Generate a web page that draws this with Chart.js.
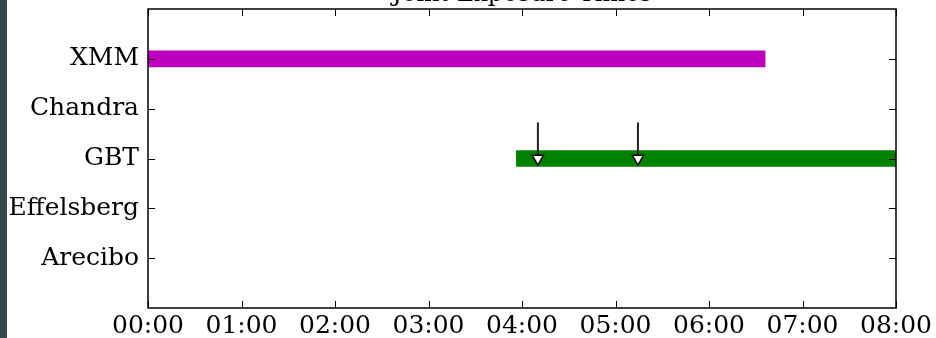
<!DOCTYPE html>
<html>
<head>
<meta charset="utf-8">
<script src="https://cdn.jsdelivr.net/npm/chart.js@4/dist/chart.umd.min.js"></script>
<style>
  html, body { margin: 0; padding: 0; background: #fff; }
  body { width: 936px; height: 338px; overflow: hidden; position: relative; }
  #strip { position: absolute; left: 0; top: 0; width: 7px; height: 338px; background: #36474f; }
  #wrap { position: absolute; left: 0; top: 0; width: 936px; height: 338px; }
</style>
</head>
<body>
<div id="wrap"><canvas id="obsChart"></canvas></div>
<div id="strip"></div>
<script>
// telescopes, top to bottom
const telescopes = ['XMM', 'Chandra', 'GBT', 'Effelsberg', 'Arecibo'];
// hours shown on the time axis
const hourTicks = [0, 1, 2, 3, 4, 5, 6, 7, 8];
// observing windows in hours
const xmmWindow = [0, 6.6];
const gbtWindow = [3.94, 8];
// arrow markers on the GBT row (hours)
const arrowTimes = [4.17, 5.24];
const arrowTop = 1.28;
const arrowTip = 2.0;
const titleText = 'Joint Exposure Times';

const serif = '"DejaVu Serif", serif';

function hh(v) {
  return (v < 10 ? '0' : '') + v + ':00';
}

// matplotlib style frame with inward ticks, and the clipped title
const framePlugin = {
  id: 'frame',
  afterDraw(chart) {
    const ctx = chart.ctx;
    const a = chart.chartArea;
    const xs = chart.scales.x, ys = chart.scales.y;
    ctx.save();
    ctx.strokeStyle = '#000';
    ctx.lineWidth = 1.5;
    ctx.strokeRect(a.left, a.top, a.right - a.left, a.bottom - a.top);
    ctx.lineWidth = 1;
    ctx.beginPath();
    hourTicks.forEach(h => {
      const px = Math.round(xs.getPixelForValue(h)) + 0.5;
      ctx.moveTo(px, a.bottom); ctx.lineTo(px, a.bottom - 7);
      ctx.moveTo(px, a.top); ctx.lineTo(px, a.top + 7);
    });
    telescopes.forEach((t, i) => {
      const py = Math.round(ys.getPixelForValue(i)) + 0.5;
      ctx.moveTo(a.left, py); ctx.lineTo(a.left + 7, py);
      ctx.moveTo(a.right, py); ctx.lineTo(a.right - 7, py);
    });
    ctx.stroke();
    // title sits mostly above the visible area
    ctx.fillStyle = '#000';
    ctx.font = '24px ' + serif;
    ctx.textAlign = 'center';
    ctx.textBaseline = 'alphabetic';
    ctx.fillText(titleText, (a.left + a.right) / 2, 1);
    ctx.restore();
  }
};

const datasets = [
  {
    type: 'bar',
    indexAxis: 'y',
    grouped: false,
    data: [{ y: 0, x: xmmWindow }],
    backgroundColor: '#bf00bf',
    barThickness: 16,
    order: 3
  },
  {
    type: 'bar',
    indexAxis: 'y',
    grouped: false,
    data: [{ y: 2, x: gbtWindow }],
    backgroundColor: '#008000',
    barThickness: 16,
    order: 3
  }
];

arrowTimes.forEach(t => {
  datasets.push({
    type: 'line',
    data: [{ x: t, y: arrowTop }, { x: t, y: arrowTip }],
    borderColor: '#222',
    borderWidth: 2,
    pointRadius: [0, 6.5],
    pointStyle: 'triangle',
    rotation: 180,
    pointBackgroundColor: '#fff',
    pointBorderColor: '#000',
    pointBorderWidth: 1.5,
    order: 1
  });
});

new Chart(document.getElementById('obsChart'), {
  data: { datasets: datasets },
  options: {
    responsive: true,
    maintainAspectRatio: false,
    animation: false,
    layout: { padding: { top: 9, right: 40, left: 0, bottom: 0 } },
    plugins: {
      legend: { display: false },
      tooltip: { enabled: false }
    },
    scales: {
      x: {
        type: 'linear',
        min: 0,
        max: 8,
        offset: false,
        grid: { display: false, drawTicks: false },
        border: { display: false },
        afterBuildTicks: s => { s.ticks = hourTicks.map(v => ({ value: v })); },
        ticks: {
          color: '#000',
          font: { family: serif, size: 25 },
          padding: 3,
          maxRotation: 0,
          callback: v => hh(v)
        },
        afterFit: s => { s.height = 30; }
      },
      y: {
        type: 'linear',
        reverse: true,
        min: -1,
        max: 5,
        offset: false,
        grid: { display: false, drawTicks: false },
        border: { display: false },
        afterBuildTicks: s => { s.ticks = telescopes.map((t, i) => ({ value: i })); },
        ticks: {
          color: '#000',
          font: { family: serif, size: 25 },
          padding: 9,
          callback: v => telescopes[v]
        },
        afterFit: s => { s.width = 148; s.paddingTop = 0; s.paddingBottom = 0; }
      }
    }
  },
  plugins: [framePlugin]
});
</script>
</body>
</html>
